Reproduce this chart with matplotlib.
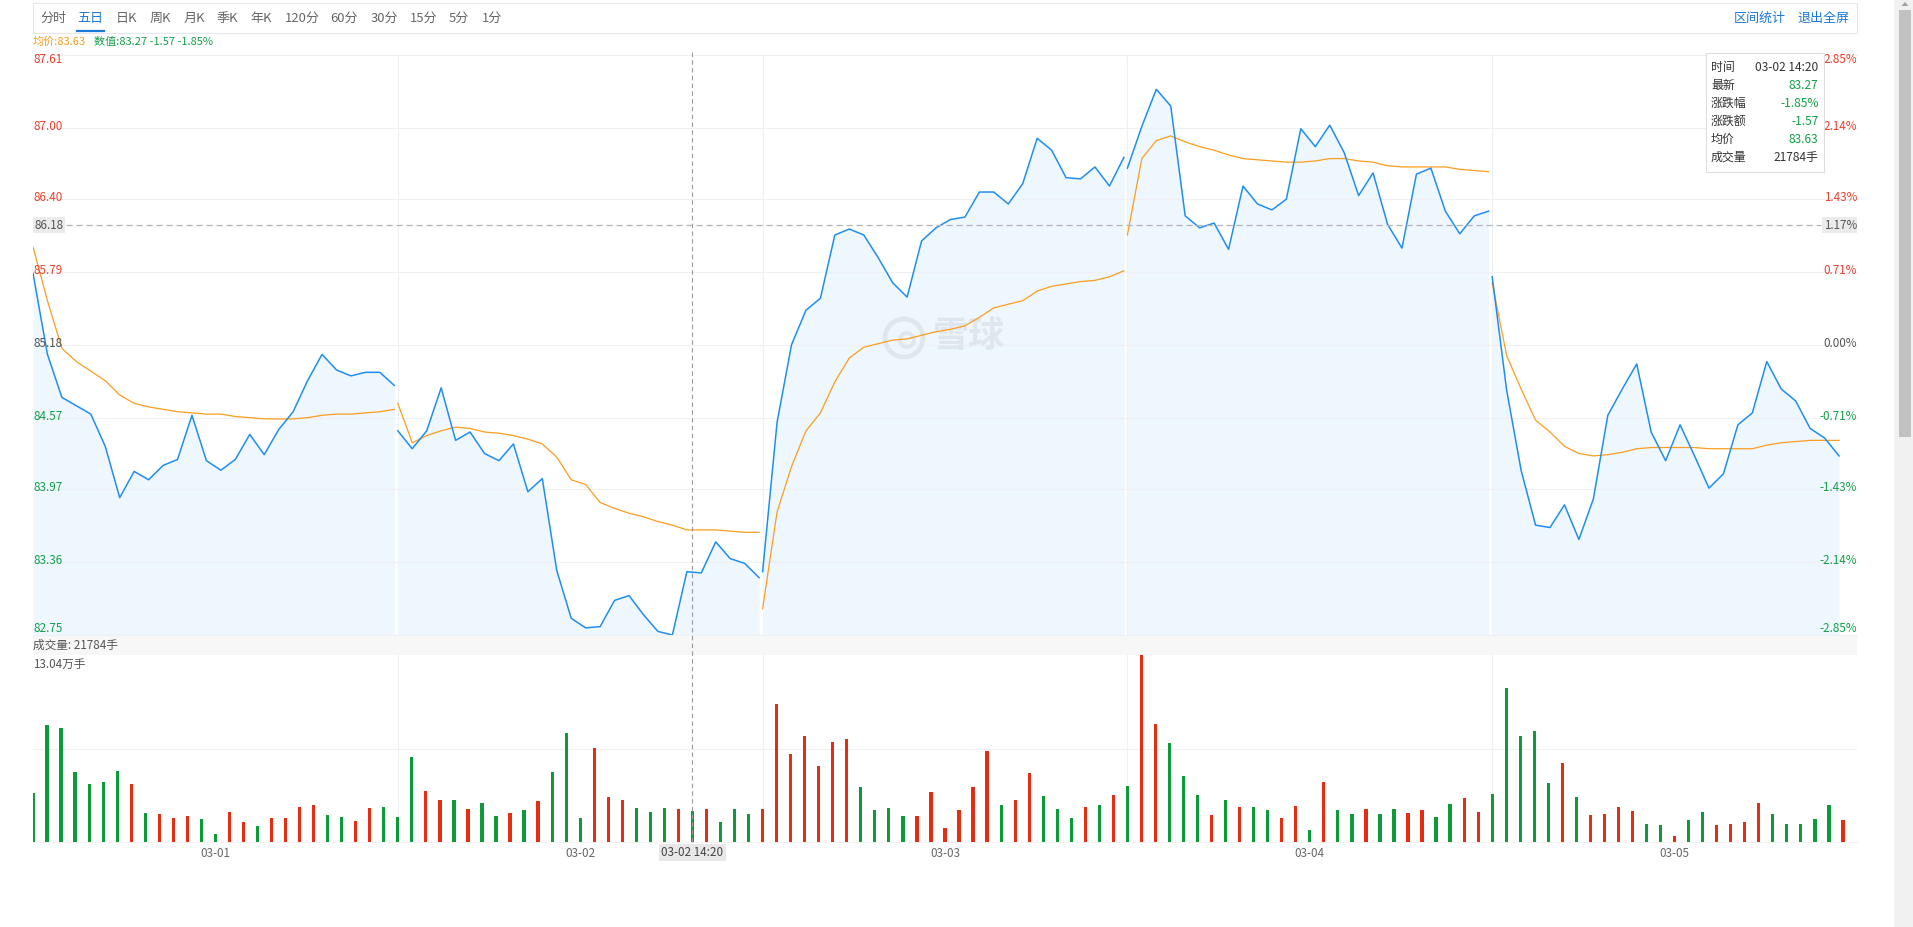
import matplotlib
matplotlib.use('Agg')
import matplotlib.pyplot as plt
import matplotlib.transforms as mtransforms
from matplotlib.patches import Rectangle, Ellipse, Polygon
from matplotlib.lines import Line2D
import numpy as np

plt.rcParams['font.family'] = ['Noto Sans CJK SC', 'DejaVu Sans']

# ---------------- data ----------------
days = ['03-01', '03-02', '03-03', '03-04', '03-05']
pre_close = 85.18
price_ticks = [87.61, 87.00, 86.40, 85.79, 85.18, 84.57, 83.97, 83.36, 82.75]
pct_labels = ['2.85%', '2.14%', '1.43%', '0.71%', '0.00%', '-0.71%', '-1.43%', '-2.14%', '-2.85%']

price_d1 = [85.78, 85.10, 84.74, 84.67, 84.60, 84.33, 83.90, 84.12, 84.05, 84.17, 84.22, 84.59, 84.21,
            84.13, 84.22, 84.43, 84.26, 84.47, 84.62, 84.88, 85.10, 84.97, 84.92, 84.95, 84.95, 84.84]
price_d2 = [84.46, 84.31, 84.46, 84.82, 84.38, 84.45, 84.27, 84.21, 84.35, 83.95, 84.06, 83.29, 82.89,
            82.81, 82.82, 83.04, 83.08, 82.92, 82.78, 82.75, 83.28, 83.27, 83.53, 83.39, 83.35, 83.23]
price_d3 = [83.28, 84.53, 85.18, 85.47, 85.57, 86.10, 86.15, 86.10, 85.91, 85.70, 85.58, 86.05, 86.16,
            86.23, 86.25, 86.46, 86.46, 86.36, 86.53, 86.91, 86.81, 86.58, 86.57, 86.67, 86.51, 86.75]
price_d4 = [86.66, 87.01, 87.32, 87.18, 86.26, 86.16, 86.20, 85.98, 86.51, 86.36, 86.31, 86.40, 86.99,
            86.84, 87.02, 86.79, 86.43, 86.62, 86.19, 85.99, 86.61, 86.66, 86.30, 86.11, 86.26, 86.30]
price_d5 = [85.75, 84.80, 84.13, 83.67, 83.65, 83.84, 83.55, 83.89, 84.59, 84.81, 85.02, 84.45, 84.21,
            84.51, 84.25, 83.98, 84.10, 84.51, 84.61, 85.04, 84.81, 84.71, 84.48, 84.40, 84.25]

avg_d1 = [86.00, 85.55, 85.15, 85.04, 84.96, 84.88, 84.76, 84.69, 84.66, 84.64, 84.62, 84.61, 84.60,
          84.60, 84.58, 84.57, 84.56, 84.56, 84.56, 84.57, 84.59, 84.60, 84.60, 84.61, 84.62, 84.64]
avg_d2 = [84.69, 84.36, 84.42, 84.46, 84.49, 84.48, 84.45, 84.44, 84.42, 84.39, 84.35, 84.24, 84.05,
          84.01, 83.86, 83.81, 83.77, 83.74, 83.70, 83.67, 83.63, 83.63, 83.63, 83.62, 83.61, 83.61]
avg_d3 = [82.97, 83.78, 84.16, 84.46, 84.61, 84.87, 85.07, 85.16, 85.19, 85.22, 85.23, 85.26, 85.29,
          85.31, 85.34, 85.41, 85.49, 85.52, 85.55, 85.63, 85.67, 85.69, 85.71, 85.72, 85.75, 85.80]
avg_d4 = [86.10, 86.74, 86.89, 86.93, 86.88, 86.84, 86.81, 86.77, 86.74, 86.73, 86.72, 86.71, 86.71,
          86.72, 86.74, 86.74, 86.72, 86.71, 86.68, 86.67, 86.67, 86.67, 86.67, 86.65, 86.64, 86.63]
avg_d5 = [85.70, 85.09, 84.81, 84.55, 84.45, 84.33, 84.27, 84.25, 84.26, 84.28, 84.31, 84.32, 84.32,
          84.32, 84.32, 84.31, 84.31, 84.31, 84.31, 84.34, 84.36, 84.37, 84.38, 84.38, 84.38]

vol_d1 = [34100, 81400, 79300, 48700, 40400, 41800, 49400, 40400, 20200, 19500, 16700, 18100, 16000,
          5600, 20900, 13900, 11100, 16700, 16700, 24400, 25800, 18800, 17400, 14600, 23700, 24400]
vol_d2 = [17400, 59200, 35500, 29200, 29200, 23000, 27100, 18100, 20200, 22300, 28500, 48700, 75900,
          16700, 65400, 31300, 29200, 23700, 20900, 23700, 23000, 21784, 23000, 13900, 23000, 19500]
vol_d3 = [23000, 96000, 61200, 73800, 52900, 69600, 71700, 38300, 22300, 23700, 18100, 18100, 34800,
          9700, 22300, 38300, 63300, 25800, 29200, 48000, 32000, 23000, 16700, 24400, 25800, 32700]
vol_d4 = [39000, 130400, 82100, 68900, 45900, 32700, 18800, 29200, 24400, 24400, 22300, 16700, 25100,
          8400, 41800, 22300, 19500, 23000, 19500, 23000, 20200, 22300, 17400, 26400, 30600, 20900]
vol_d5 = [33400, 107200, 73800, 77300, 41100, 55000, 31300, 18800, 19500, 24400, 21600, 12500, 11800,
          4200, 15300, 20900, 11800, 12500, 13900, 27100, 19500, 12500, 12500, 16000, 25800, 15300]

# 1 = up (red), 0 = down (green)
up_d1 = [0, 0, 0, 0, 0, 0, 0, 1, 0, 1, 1, 1, 0, 0, 1, 1, 0, 1, 1, 1, 1, 0, 0, 1, 1, 0]
up_d2 = [0, 0, 1, 1, 0, 1, 0, 0, 1, 0, 1, 0, 0, 0, 1, 1, 1, 0, 0, 0, 1, 0, 1, 0, 0, 0]
up_d3 = [1, 1, 1, 1, 1, 1, 1, 0, 0, 0, 0, 1, 1, 1, 1, 1, 1, 0, 1, 1, 0, 0, 0, 1, 0, 1]
up_d4 = [0, 1, 1, 0, 0, 0, 1, 0, 1, 0, 0, 1, 1, 0, 1, 0, 0, 1, 0, 0, 1, 1, 0, 0, 1, 1]
up_d5 = [0, 0, 0, 0, 0, 1, 0, 1, 1, 1, 1, 0, 0, 1, 0, 0, 1, 1, 1, 1, 0, 0, 0, 0, 0, 1]

tabs = ['分时', '五日', '日K', '周K', '月K', '季K', '年K', '120分', '60分', '30分', '15分', '5分', '1分']
tip_keys = ['时间', '最新', '涨跌幅', '涨跌额', '均价', '成交量']
tip_vals = ['03-02 14:20', '83.27', '-1.85%', '-1.57', '83.63', '21784手']
cross_slot = 47
cross_price = 86.18
cross_pct = '1.17%'
cross_time = '03-02 14:20'
vol_max_label = '13.04万手'

# ---------------- layout ----------------
W, H = 1913, 927
fig = plt.figure(figsize=(W / 100, H / 100), dpi=100)
fig.patch.set_facecolor('white')


def fx(x):
    return x / W


def fy(y):
    return 1 - y / H


RED, GREEN, GRAY = '#e8402c', '#149e47', '#555555'
BAR_RED, BAR_GREEN = '#e42d12', '#0d9a39'
BLUE = '#1f8ef1'
ORANGE = '#fb9d1e'
GRID = '#eef0f3'
FS = 8.4

L, R = 33, 1857
P_TOP, P_BOT = 54.7, 635.0
V_TOP, V_BOT = 655.0, 842.3
PER_DAY = 26
N = PER_DAY * len(days)

axp = fig.add_axes([fx(L), fy(P_BOT), (R - L) / W, (P_BOT - P_TOP) / H])
axv = fig.add_axes([fx(L), fy(V_BOT), (R - L) / W, (V_BOT - V_TOP) / H])
for ax in (axp, axv):
    ax.set_xlim(0, N)
    ax.axis('off')
lo, hi = price_ticks[-1], price_ticks[0]
axp.set_ylim(lo, hi)

prices = [price_d1, price_d2, price_d3, price_d4, price_d5]
avgs = [avg_d1, avg_d2, avg_d3, avg_d4, avg_d5]
vols = np.array(vol_d1 + vol_d2 + vol_d3 + vol_d4 + vol_d5)
ups = np.array(up_d1 + up_d2 + up_d3 + up_d4 + up_d5)
vmax = vols.max()
axv.set_ylim(0, vmax)

# grid
for p in price_ticks:
    axp.axhline(p, color=GRID, lw=0.8, zorder=1.2, clip_on=False)
for d in range(1, len(days)):
    axp.axvline(d * PER_DAY, color=GRID, lw=0.8, zorder=0.5)
    axv.axvline(d * PER_DAY, color=GRID, lw=0.8, zorder=0.5)
axv.axhline(vmax / 2, color=GRID, lw=0.8, zorder=0.5)
axv.axhline(0, color='#f2f2f2', lw=0.8, zorder=0.5, clip_on=False)

# price + average lines
step = 25.75 / 25
for d, (pr, av) in enumerate(zip(prices, avgs)):
    x = d * PER_DAY + np.arange(len(pr)) * step
    axp.fill_between(x, pr, lo, color='#eef6fe', lw=0, zorder=1)
    axp.plot(x, pr, color=BLUE, lw=1.1, zorder=3)
    axp.plot(x, av, color=ORANGE, lw=0.9, zorder=2.9)

# volume bars
axv.bar(np.arange(N), vols, width=0.23, color=np.where(ups == 1, BAR_RED, BAR_GREEN), zorder=2)

# watermark
wm = '#e0e6ee'
axp.text(fx(969), fy(337), '雪球', transform=fig.transFigure, fontsize=26, fontweight='bold',
         color=wm, ha='center', va='center', zorder=1.5)
axp.add_patch(Ellipse((fx(904), fy(338)), 38 / W, 38 / H, transform=fig.transFigure,
                      fc='none', ec=wm, lw=3.4, zorder=1.5))
axp.add_patch(Ellipse((fx(907), fy(340)), 14 / W, 14 / H, transform=fig.transFigure,
                      fc='none', ec=wm, lw=2.8, zorder=1.5))

# price labels (left) and percent labels (right)
for i, (p, lab) in enumerate(zip(price_ticks, pct_labels)):
    yp = P_TOP + (hi - p) / (hi - lo) * (P_BOT - P_TOP)
    if i == 0:
        yt = yp + 4.5
    elif i == len(price_ticks) - 1:
        yt = yp - 6.5
    else:
        yt = yp - 1.5
    c = RED if p > pre_close else (GREEN if p < pre_close else GRAY)
    fig.text(fx(L + 1), fy(yt), f'{p:.2f}', color=c, fontsize=FS, ha='left', va='center', zorder=3)
    fig.text(fx(R), fy(yt), lab, color=c, fontsize=FS, ha='right', va='center', zorder=3)

# toolbar
fig.add_artist(Rectangle((fx(L), fy(32.5)), (R - L) / W, 29 / H, transform=fig.transFigure,
                         fc='white', ec='#e4e7ec', lw=0.8))
tab_x = [53, 90, 127, 160, 194, 227, 261, 302, 344, 384, 424, 459, 492]
for t, xx in zip(tabs, tab_x):
    fig.text(fx(xx), fy(18.5), t, fontsize=9.4, ha='center', va='center',
             color='#1a78d6' if t == '五日' else '#666666')
fig.add_artist(Line2D([fx(77), fx(104)], [fy(30.7)] * 2, transform=fig.transFigure,
                      color='#1a78d6', lw=1.6))
fig.text(fx(1760), fy(18.5), '区间统计', fontsize=9.4, ha='center', va='center', color='#1a78d6')
fig.text(fx(1823.5), fy(18.5), '退出全屏', fontsize=9.4, ha='center', va='center', color='#1a78d6')

# info line
fig.text(fx(L), fy(41.5), '均价:83.63', fontsize=8, ha='left', va='center', color='#f59d1a')
fig.text(fx(94.5), fy(41.5), '数值:83.27 -1.57 -1.85%', fontsize=8, ha='left', va='center', color=GREEN)

# volume band and labels
fig.add_artist(Rectangle((fx(L), fy(655)), (R - L) / W, 19 / H, transform=fig.transFigure,
                         fc='#f7f7f7', ec='none', zorder=1))
fig.text(fx(L), fy(645.5), '成交量: 21784手', fontsize=FS, ha='left', va='center', color=GRAY, zorder=2)
fig.text(fx(L), fy(664.5), vol_max_label, fontsize=FS, ha='left', va='center', color=GRAY, zorder=2)

# date labels
tx = mtransforms.blended_transform_factory(axv.transData, fig.transFigure)
for d, lab in enumerate(days):
    fig.text(d * PER_DAY + PER_DAY / 2, fy(853.5), lab, transform=tx, fontsize=FS,
             ha='center', va='center', color='#666666')

# crosshair
fig.add_artist(Line2D([cross_slot] * 2, [fy(52), fy(844)], transform=tx, color='#9a9a9a',
                      lw=0.8, ls=(0, (4, 3)), zorder=4))
ty = mtransforms.blended_transform_factory(fig.transFigure, axp.transData)
fig.add_artist(Line2D([fx(66), fx(1821)], [cross_price] * 2, transform=ty, color='#b4b4b4',
                      lw=0.9, ls=(0, (5, 3)), zorder=4))
yc = P_TOP + (hi - cross_price) / (hi - lo) * (P_BOT - P_TOP)
fig.add_artist(Rectangle((fx(L), fy(yc + 8)), 32 / W, 16 / H, transform=fig.transFigure,
                         fc='#ebebeb', ec='none', zorder=4))
fig.text(fx(L + 16), fy(yc), f'{cross_price:.2f}', fontsize=FS, ha='center', va='center',
         color=GRAY, zorder=5)
fig.add_artist(Rectangle((fx(1822), fy(yc + 8)), 35 / W, 16 / H, transform=fig.transFigure,
                         fc='#ebebeb', ec='none', zorder=4))
fig.text(fx(R), fy(yc), cross_pct, fontsize=FS, ha='right', va='center', color=GRAY, zorder=5)
fig.add_artist(Rectangle((cross_slot - 2.4, fy(861)), 4.8, 17 / H, transform=tx,
                         fc='#e8e8e8', ec='none', zorder=4))
fig.text(cross_slot, fy(852.5), cross_time, transform=tx, fontsize=FS, ha='center', va='center',
         color='#444444', zorder=5)

# tooltip
fig.add_artist(Rectangle((fx(1705.7), fy(172.3)), 118.6 / W, 119 / H, transform=fig.transFigure,
                         fc='white', ec='#dedede', lw=0.8, zorder=5))
for i, (k, v) in enumerate(zip(tip_keys, tip_vals)):
    yy = 67.3 + i * 18
    vc = '#333333' if i in (0, 5) else GREEN
    fig.text(fx(1711), fy(yy), k, fontsize=8.6, ha='left', va='center', color='#333333', zorder=6)
    fig.text(fx(1818.5), fy(yy), v, fontsize=8.6, ha='right', va='center', color=vc, zorder=6)

# scrollbar
fig.add_artist(Rectangle((fx(1894), 0), 19 / W, 1, transform=fig.transFigure, fc='#f1f1f1', ec='none'))
fig.add_artist(Rectangle((fx(1899), fy(437)), 12 / W, 427 / H, transform=fig.transFigure,
                         fc='#c1c1c1', ec='none'))
fig.add_artist(Polygon([[fx(1901.5), fy(6)], [fx(1908.5), fy(6)], [fx(1905), fy(2)]],
                       transform=fig.transFigure, fc='#a3a3a3', ec='none'))

fig.savefig('out.png', dpi=100, facecolor='white')
